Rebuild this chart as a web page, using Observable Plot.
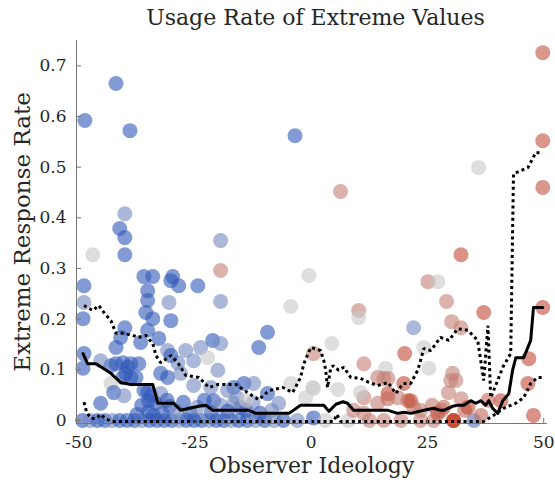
<!DOCTYPE html>
<html>
<head>
<meta charset="utf-8">
<script src="https://cdn.jsdelivr.net/npm/d3@7"></script>
<script src="https://cdn.jsdelivr.net/npm/@observablehq/plot@0.6"></script>
<style>
  body { margin: 0; background: white; }
  #title { width: 555px; height: 36px; box-sizing: border-box; padding-left: 76px; text-align: center;
           font-family: "DejaVu Serif", serif; font-size: 22px; line-height: 36px; color: #262626; }
</style>
</head>
<body>
<div id="title">Usage Rate of Extreme Values</div>
<div id="chart"></div>
<script>
// ---- data ----
const titleText = "Usage Rate of Extreme Values";
const xLabel = "Observer Ideology";
const yLabel = "Extreme Response Rate";
const xTicks = [-50, -25, 0, 25, 50];
const yTicks = [0, 0.1, 0.2, 0.3, 0.4, 0.5, 0.6, 0.7];

// observers: ideology, extreme response rate, colour tone (-1 blue .. 0 grey .. 1 red)
const ideology = [
  -48.7,-42.0,-39.0,-3.5,49.8,49.8,49.8,36.0,6.3,-40.1,-41.2,-40.1,-40.1,-19.5,-47.0,-19.5,-28.5,-48.9,-36.0,-34.1,
  -29.8,-30.2,-35.2,-35.2,-34.1,-30.6,-30.2,-24.4,-48.9,-49.1,-48.9,-49.1,-19.5,-0.5,-4.4,32.2,25.1,27.2,29.1,37.1,
  30.2,32.2,22.0,49.8,46.8,46.6,47.8,20.1,24.2,25.3,30.4,31.1,40.8,30.6,30.6,35.0,32.2,21.4,-9.4,-11.3,
  10.2,10.2,4.4,0.5,11.3,16.0,14.3,15.6,-4.4,0.5,5.7,11.3,16.5,20.8,-16.7,-14.5,-12.4,-9.4,-7.0,-15.2,
  0.5,-40.1,-41.0,-35.2,-32.8,-36.7,-42.0,-40.5,-43.1,-39.5,-45.3,-37.1,-30.9,-28.7,-32.4,-23.8,-25.3,-22.3,-21.2,-19.5,
  -20.1,-40.5,-43.1,-38.8,-42.5,-40.3,-45.3,-36.0,-34.5,-30.9,-28.1,-25.3,-21.6,-18.0,-21.0,-16.7,
  -42.0,-38.8,-39.9,-37.7,-35.2,-35.0,-32.4,-27.0,-30.2,-35.6,
  -49.2,-47.6,-46.0,-44.4,-42.8,-41.2,-39.6,-38.0,-36.4,-34.8,-33.2,-31.6,-30.0,-28.4,-26.8,-25.2,-23.6,-22.0,-20.4,-18.8,
  -17.2,-15.6,-13.8,-12.0,-10.0,-8.0,-6.0,-3.0,3.0,8.0,12.5,15.6,19.3,23.5,26.3,
  -36.5,-35.0,-33.5,-32.0,-30.5,-29.0,-27.5,-26.0,-24.5,-23.0,-21.5,-19.5,-18.0,-16.0,-14.0,-12.5,-11.0,-8.5,-14.0,-1.2,
  0.3,-34.0,-31.0,-37.5,
  9.1,11.3,14.3,16.5,18.6,22.0,23.5,26.0,28.0,29.5,33.0,36.5,38.0,16.5,19.9,10.6,30.0,33.7,27.2,28.5
];
const rate = [
  0.592,0.665,0.572,0.562,0.726,0.552,0.460,0.499,0.452,0.408,0.379,0.361,0.327,0.355,0.327,0.296,0.266,0.266,0.284,0.284,
  0.284,0.276,0.256,0.237,0.201,0.233,0.197,0.266,0.233,0.201,0.132,0.103,0.235,0.286,0.225,0.327,0.274,0.274,0.235,0.213,
  0.195,0.183,0.183,0.223,0.122,0.073,0.010,0.132,0.144,0.103,0.093,0.079,0.039,0.000,0.000,0.000,0.043,0.039,0.174,0.144,
  0.217,0.203,0.152,0.132,0.112,0.103,0.085,0.083,0.073,0.063,0.061,0.045,0.053,0.039,0.065,0.073,0.073,0.053,0.034,0.026,
  0.005,0.183,0.164,0.178,0.162,0.154,0.144,0.114,0.108,0.105,0.118,0.112,0.138,0.114,0.093,0.144,0.118,0.124,0.158,0.152,
  0.099,0.085,0.073,0.085,0.055,0.049,0.034,0.059,0.049,0.085,0.093,0.069,0.065,0.059,0.039,0.034,
  0.112,0.112,0.093,0.085,0.055,0.039,0.053,0.138,0.128,0.213,
  0,0,0,0,0,0,0,0,0,0,0,0,0,0,0,0,0,0,0,0,
  0,0,0,0,0,0,0,0,0,0,0,0,0,0,0,
  0.030,0.018,0.034,0.014,0.028,0.018,0.036,0.014,0.026,0.040,0.016,0.030,0.018,0.045,0.020,0.035,0.014,0.020,0.040,0.045,
  0.065,0.010,0.040,0.012,
  0.020,0.014,0.034,0.043,0.045,0.026,0.020,0.030,0.020,0.055,0.020,0.010,0.040,0.083,0.073,0.055,0.079,0.026,0.014,0.026
];
const tone = [
  -0.8,-0.8,-0.8,-0.8,0.75,0.75,0.75,0,0.45,-0.45,-0.8,-0.8,-0.8,-0.45,0,0.45,-0.8,-0.8,-0.8,-0.8,
  -0.8,-0.8,-0.8,-0.8,-0.8,-0.45,-0.8,-0.8,-0.45,-0.8,-0.8,-0.8,-0.45,0,0,0.8,0.45,0,0.45,0.8,
  0.45,0.45,-0.45,0.8,0.8,0.8,0.8,0.8,0,0,0.45,0.45,0.8,1,1,-0.6,0.45,0.8,-0.8,-0.8,
  0.45,0,0,0.45,0.45,0,0.45,0.45,0,0,0,0.45,0.8,0.8,-0.8,-0.8,-0.45,-0.8,-0.45,-0.8,
  -0.8,-0.8,-0.8,-0.8,-0.8,-0.8,-0.8,-0.8,-0.8,-0.8,-0.45,-0.8,-0.45,-0.45,-0.8,-0.45,-0.45,0,-0.8,-0.45,
  -0.45,-0.8,0,-0.8,-0.8,-0.45,-0.8,-0.8,-0.8,-0.8,-0.45,-0.45,-0.45,-0.45,-0.8,-0.45,
  -0.8,-0.8,-0.8,-0.8,-0.8,-0.8,-0.45,-0.45,-0.8,-0.8,
  -0.8,-0.45,-0.8,-0.8,-0.45,-0.8,-0.8,-0.8,-0.45,-0.8,-0.8,-0.8,-0.8,-0.45,-0.8,-0.8,-0.8,-0.45,-0.8,-0.8,
  -0.45,-0.8,-0.8,-0.45,-0.8,-0.45,-0.8,-0.45,0,0,0.45,0.45,0.45,0.45,0.45,
  -0.8,-0.8,-0.8,-0.8,-0.8,-0.45,-0.8,-0.8,-0.45,-0.8,-0.8,-0.45,-0.8,-0.45,-0.8,-0.45,-0.8,-0.45,0,0,
  0,-0.8,-0.8,-0.8,
  0.45,0.45,0.45,0.6,0.45,0.6,0.45,0.5,0.45,0.45,0.6,0.6,0.6,0.45,0.8,0,0.45,0.8,0.8,0.6
];

// solid line (central estimate)
const midX = [-49.1,-48.1,-46.3,-43.1,-41.0,-38.8,-34.1,-33.0,-29.6,-28.1,-24.2,-22.7,-21.2,-13.4,-11.9,-4.8,-2.3,2.7,3.8,5.3,
  6.8,7.8,9.1,16.5,18.6,19.9,21.4,24.2,26.3,27.8,28.5,30.4,31.5,32.8,34.3,35.4,36.5,37.5,38.2,39.0,
  40.1,41.2,42.5,43.3,44.0,45.7,47.2,47.8,49.8];
const midY = [0.132,0.112,0.112,0.093,0.075,0.071,0.071,0.034,0.034,0.020,0.028,0.030,0.020,0.020,0.014,0.014,0.030,0.030,0.018,0.032,
  0.037,0.034,0.020,0.020,0.014,0.016,0.014,0.020,0.024,0.020,0.020,0.028,0.030,0.030,0.039,0.034,0.039,0.030,0.039,0.024,
  0.014,0.039,0.053,0.099,0.124,0.124,0.158,0.223,0.223];

// upper dotted line
const hiX = [-48.9,-47.0,-45.7,-44.6,-43.1,-42.0,-40.5,-38.4,-37.1,-35.6,-34.1,-33.4,-32.4,-30.2,-28.7,-27.0,-24.2,-22.0,-20.1,-16.2,
  -13.7,-11.3,-9.1,-6.1,-4.0,-2.3,-1.6,-0.1,2.0,2.7,3.1,3.5,4.2,4.8,5.9,7.0,8.5,10.6,12.4,14.3,
  16.5,18.2,19.7,21.4,22.9,23.5,24.2,25.7,27.8,29.6,31.5,33.7,35.8,37.1,38.0,38.6,40.1,41.2,42.9,43.5,
  46.6,48.3,49.8];
const hiY = [0.227,0.217,0.227,0.213,0.197,0.172,0.172,0.168,0.164,0.168,0.152,0.128,0.114,0.128,0.114,0.089,0.085,0.065,0.071,0.071,
  0.055,0.041,0.059,0.065,0.055,0.085,0.112,0.144,0.138,0.118,0.099,0.065,0.105,0.108,0.099,0.105,0.085,0.083,0.075,0.069,
  0.075,0.053,0.073,0.073,0.099,0.118,0.142,0.138,0.164,0.158,0.181,0.178,0.158,0.079,0.187,0.045,0.079,0.105,0.132,0.487,
  0.499,0.529,0.527];

// lower dotted line
const loX = [-48.9,-48.3,-47.4,-46.3,-45.3,-44.0,-42.7,4.8,5.5,6.3,37.1,39.2,41.4,44.0,45.7,47.2,48.7,49.8];
const loY = [0.036,0.016,0.004,0.004,0.012,0.002,-0.002,-0.002,0.012,-0.002,-0.002,0.010,0.024,0.034,0.045,0.073,0.085,0.085];

// ---- build tables ----
const points = ideology.map((x, i) => ({x, y: rate[i], c: tone[i]}));
const mid = midX.map((x, i) => ({x, y: midY[i]}));
const hi = hiX.map((x, i) => ({x, y: hiY[i]}));
const lo = loX.map((x, i) => ({x, y: loY[i]}));

const chart = Plot.plot({
  width: 555,
  height: 453,
  marginTop: 4,
  marginLeft: 76,
  marginRight: 9,
  marginBottom: 66,
  x: {domain: [-50.5, 50.6]},
  y: {domain: [-0.006, 0.75]},
  color: {type: "linear", domain: [-1, 0, 1], range: ["#0a3cb4", "#c8c8c8", "#c02a10"]},
  style: {fontFamily: "DejaVu Serif, serif", fontSize: "17px", color: "#262626", background: "white", overflow: "visible"},
  marks: [
    Plot.dot(points, {x: "x", y: "y", r: 7.5, fill: "c", fillOpacity: 0.6, stroke: "none"}),
    Plot.line(hi, {x: "x", y: "y", stroke: "black", strokeWidth: 3, strokeDasharray: "3,3.2", strokeLinecap: "butt", strokeLinejoin: "miter"}),
    Plot.line(lo, {x: "x", y: "y", stroke: "black", strokeWidth: 3, strokeDasharray: "3,3.2", strokeLinecap: "butt", strokeLinejoin: "miter"}),
    Plot.line(mid, {x: "x", y: "y", stroke: "black", strokeWidth: 3}),
    Plot.frame({anchor: "bottom", stroke: "#777"}),
    Plot.frame({anchor: "left", stroke: "#777"}),
    Plot.axisX({ticks: xTicks, tickSize: -5, tickPadding: 17, tickFormat: d => String(d), label: null, stroke: "#777", color: "#262626"}),
    Plot.axisY({ticks: yTicks, tickSize: -5, tickPadding: 15, tickFormat: d => String(d), label: null, stroke: "#777", color: "#262626"}),
    Plot.text([xLabel], {text: d => d, frameAnchor: "bottom", dy: 49, fontSize: 22, fill: "#262626"}),
    Plot.text([yLabel], {text: d => d, frameAnchor: "left", textAnchor: "middle", dx: -54, dy: 0, rotate: -90, fontSize: 23, fill: "#262626"})
  ]
});
document.getElementById("chart").appendChild(chart);
</script>
</body>
</html>
